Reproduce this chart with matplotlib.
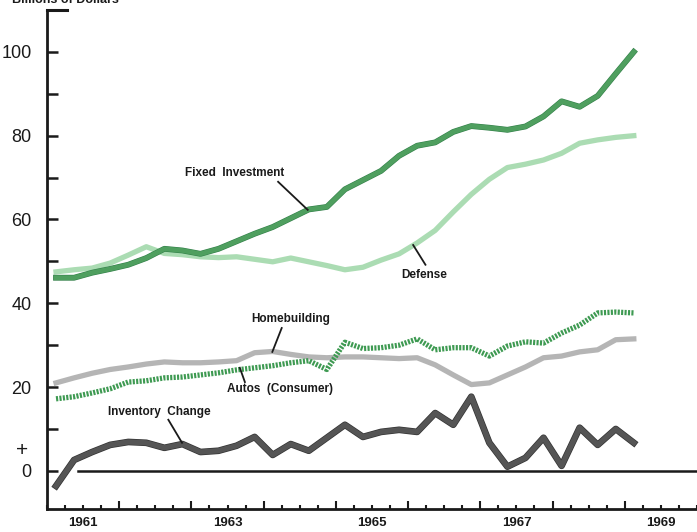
import matplotlib.pyplot as plt
import matplotlib.patheffects as pe
import numpy as np

# quarterly data, 1961 Q1 .. 1969 Q1 (billions of dollars, annual rates)
quarters = 1961 + (np.arange(33) + 0.5) / 4

fixed_investment = [46.1, 46.1, 47.3, 48.2, 49.2, 50.8, 53.0, 52.6, 51.8, 53.0, 54.8,
                    56.6, 58.2, 60.3, 62.4, 63.0, 67.2, 69.4, 71.6, 75.2, 77.6, 78.4,
                    80.9, 82.3, 81.9, 81.4, 82.2, 84.6, 88.2, 86.9, 89.5, 94.8, 100.0]
defense = [47.5, 48.0, 48.4, 49.6, 51.5, 53.5, 51.9, 51.6, 51.1, 50.9, 51.1,
           50.5, 49.9, 50.8, 49.9, 49.0, 48.0, 48.6, 50.3, 51.8, 54.4, 57.4,
           61.8, 66.0, 69.6, 72.4, 73.2, 74.2, 75.8, 78.2, 79.0, 79.6, 80.0]
homebuilding = [21.0, 22.2, 23.3, 24.2, 24.8, 25.5, 26.0, 25.8, 25.8, 26.0, 26.3,
                28.2, 28.5, 27.8, 27.2, 27.0, 27.2, 27.2, 27.0, 26.8, 27.0, 25.3,
                22.9, 20.6, 21.0, 22.9, 24.8, 27.0, 27.4, 28.4, 28.9, 31.3, 31.5]
autos = [17.2, 17.7, 18.6, 19.6, 21.2, 21.5, 22.2, 22.4, 22.9, 23.4, 24.1,
         24.6, 25.1, 25.8, 26.3, 24.2, 30.7, 29.2, 29.4, 30.0, 31.5, 28.9,
         29.4, 29.4, 27.4, 29.8, 30.8, 30.5, 32.9, 34.8, 37.7, 37.9, 37.7]
inventory = [-3.6, 2.6, 4.5, 6.2, 6.9, 6.7, 5.5, 6.4, 4.5, 4.8, 6.0,
             8.1, 3.8, 6.4, 4.8, 7.9, 11.0, 8.1, 9.3, 9.8, 9.3, 13.8,
             11.0, 17.7, 6.7, 1.0, 3.1, 7.9, 1.2, 10.3, 6.2, 10.0, 6.7]

year_labels = ['1961', '1963', '1965', '1967', '1969']
y_labels = [0, 20, 40, 60, 80, 100]

# series labels: text, text position, leader line (from, to)
labels = [
    ('Fixed  Investment', (1963.60, 71.1), (1964.20, 69.0), (1964.61, 62.3)),
    ('Defense', (1966.22, 46.8), (1966.24, 49.2), (1966.07, 53.9)),
    ('Homebuilding', (1964.37, 36.3), (1964.25, 34.1), (1964.12, 28.4)),
    ('Autos  (Consumer)', (1964.23, 19.6), (1963.74, 21.2), (1963.67, 24.6)),
    ('Inventory  Change', (1962.55, 14.1), (1962.68, 12.2), (1962.87, 6.7)),
]

plt.rcParams['font.family'] = ['Liberation Sans', 'DejaVu Sans']

fig = plt.figure(figsize=(6.97, 5.32), dpi=100)
ax = fig.add_axes([47 / 697, 23 / 532, 650 / 697, 499 / 532])
ax.set_xlim(1961, 1970)
ax.set_ylim(-9.1, 110)

# lines
ax.plot(quarters, defense, color='#abdcb3', lw=3.8, zorder=2)
ax.plot(quarters, fixed_investment, color='#4f9f5f', lw=3.4, zorder=3,
        path_effects=[pe.Stroke(linewidth=4.2, foreground='#33804a'), pe.Normal()])
ax.plot(quarters, homebuilding, color='#b5b5b5', lw=3.8, zorder=2)
ax.plot(quarters, autos, color='#3e9a52', lw=3.8, linestyle=(0, (0.4, 0.25)),
        dash_capstyle='butt', zorder=3)
ax.plot(quarters, inventory, color='#555555', lw=3.8, zorder=3,
        path_effects=[pe.Stroke(linewidth=4.8, foreground='#333333'), pe.Normal()])

# zero line and top tick
ax.axhline(0, xmin=31 / 650, xmax=1, color='#1a1a1a', lw=1.8, zorder=1)
ax.axhline(110, xmin=0, xmax=20 / 650, color='#1a1a1a', lw=2.2, clip_on=False)

# spines / ticks
for s in ['top', 'right']:
    ax.spines[s].set_visible(False)
for s in ['left', 'bottom']:
    ax.spines[s].set_linewidth(2.0)
    ax.spines[s].set_color('#1a1a1a')

ax.set_yticks(np.arange(0, 111, 10))
ax.set_yticklabels([str(v) if v in y_labels else '' for v in range(0, 111, 10)],
                   fontsize=13, color='#1a1a1a')
ax.tick_params(axis='y', direction='in', length=8, width=1.8, pad=11, color='#1a1a1a')
ax.text(-0.038, 4.8, '+', transform=ax.get_yaxis_transform(), ha='center', va='center',
        fontsize=15, color='#1a1a1a')

ax.set_xticks(np.arange(1962, 1970))
ax.set_xticks(np.arange(1961, 1970.01, 0.25), minor=True)
ax.set_xticklabels([])
ax.tick_params(axis='x', which='major', direction='in', length=6, width=1.5, color='#1a1a1a')
ax.tick_params(axis='x', which='minor', direction='in', length=3, width=1.5, color='#1a1a1a')
for i, lab in enumerate(year_labels):
    ax.annotate(lab, xy=(1961.5 + 2 * i, 0), xycoords=('data', 'axes fraction'),
                xytext=(0, -10), textcoords='offset points', ha='center', va='center',
                fontsize=9.5, fontweight='bold', color='#1a1a1a')

# series labels with leader lines
for text, (tx, ty), (x0, y0), (x1, y1) in labels:
    ax.text(tx, ty, text, fontsize=8.5, fontweight='bold', color='#1a1a1a',
            ha='center', va='center', zorder=5)
    ax.plot([x0, x1], [y0, y1], color='#1a1a1a', lw=1.3, zorder=5)

fig.text(12 / 697, 1 - 3 / 532, 'Billions of Dollars', fontsize=9, fontweight='bold',
         color='#1a1a1a', ha='left', va='baseline')

fig.savefig('out.png', dpi=100, facecolor='white')
